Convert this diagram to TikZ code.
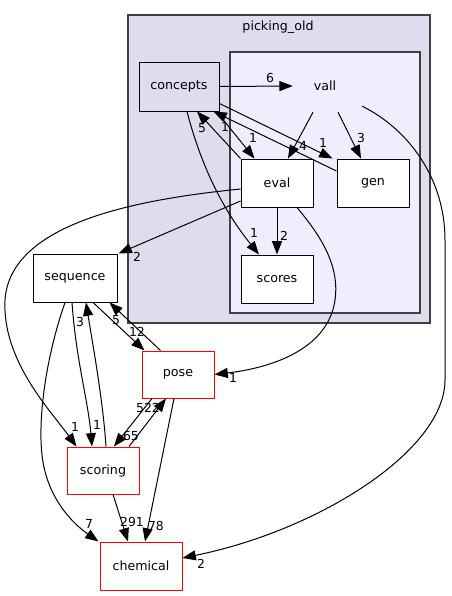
\documentclass[tikz,border=0pt]{standalone}
\usepackage{fontspec}
\setmainfont{DejaVu Sans}
\usetikzlibrary{arrows.meta,calc}
\definecolor{clout}{HTML}{DDDDEE}
\definecolor{clin}{HTML}{EEEEFF}
\definecolor{clborder}{HTML}{404040}
\begin{document}
\begin{tikzpicture}[x=0.75pt,y=-0.75pt,
  dirbox/.style={draw=black, fill=white, line width=0.75pt, minimum width=54pt, minimum height=36pt, inner sep=0pt, font=\fontsize{9.5}{11}\selectfont},
  redbox/.style={dirbox, draw=red},
  clusterbox/.style={draw=clborder, line width=0.9pt},
  cltitle/.style={inner sep=0pt, font=\fontsize{9.5}{11}\selectfont},
  depedge/.style={draw=black, line width=0.75pt, -{Triangle[length=10pt,width=7.5pt]}},
  elabel/.style={inner sep=0pt, font=\fontsize{9.3}{11}\selectfont}]
\useasboundingbox (0,0) rectangle (452,596);
% clusters
\draw[clusterbox, fill=clout] (128,15) rectangle (430,323);
\node[cltitle] (tpicking) at (278,27) {picking\_old};
\draw[clusterbox, fill=clin] (230,52) rectangle (420,313);
% nodes
\node[dirbox, fill=clout, minimum width=60pt, minimum height=36.75pt] (concepts) at (179,86.5) {concepts};
\node[inner sep=0pt, minimum width=48pt, minimum height=39pt, font=\fontsize{9.5}{11}\selectfont] (vall) at (325,86) {vall};
\node[dirbox] (eval) at (277,183) {eval};
\node[dirbox] (gen) at (373,183) {gen};
\node[dirbox] (scores) at (277,279) {scores};
\node[dirbox, minimum width=63pt] (sequence) at (75,278) {sequence};
\node[redbox, minimum height=35.25pt] (pose) at (178,374.5) {pose};
\node[redbox, minimum height=35.25pt] (scoring) at (103,470.5) {scoring};
\node[redbox, minimum width=61.5pt] (chemical) at (141,566) {chemical};
% edges
\draw[depedge] (concepts.east) -- (vall.west);
\node[elabel] (l6) at (270,78) {6};
\draw[depedge] ($(concepts.south east)+(-3,0)$) -- ($(eval.north west)+(14,0)$);
\node[elabel] (lce) at (253,138) {1};
\draw[depedge] (eval.north west) -- ($(concepts.south)+(18,0)$);
\node[elabel] (lec) at (202,128) {5};
\draw[depedge] ($(gen.west)+(0,-12)$) -- ($(concepts.south east)+(-6,0)$);
\node[elabel] (lgc) at (225,127) {1};
\draw[depedge] ($(concepts.east)+(0,17)$) -- ($(gen.north west)+(-4,0)$);
\node[elabel] (lcg) at (323,143) {1};
\draw[depedge] ($(concepts.south)+(8,0)$) .. controls (197,150) and (215,200) .. ($(scores.north)+(-18,0)$);
\node[elabel] (lcs) at (254,233) {1};
\draw[depedge] ($(vall.south)+(-12,0)$) -- ($(eval.north)+(11,0)$);
\node[elabel] (lve) at (303,146) {4};
\draw[depedge] ($(vall.south)+(13,0)$) -- ($(gen.north)+(-12,0)$);
\node[elabel] (lvg) at (361,138) {3};
\draw[depedge] ($(vall.south east)+(5,-6)$) .. controls (410,130) and (445,180) .. (445,240) -- (445,380) .. controls (445,450) and (320,530) .. ($(chemical.east)+(0,-8)$);
\node[elabel] (lvc) at (201,564) {2};
\draw[depedge] (eval.south) -- (scores.north);
\node[elabel] (les) at (284,236) {2};
\draw[depedge] ($(eval.west)+(0,18)$) -- ($(sequence.north east)+(1,0)$);
\node[elabel] (lesq) at (137,257) {2};
\draw[depedge] ($(eval.west)+(0,6)$) .. controls (130,200) and (10,225) .. (5,300) .. controls (2,360) and (50,410) .. ($(scoring.north west)+(10,0)$);
\node[elabel] (lesc) at (75,427) {1};
\draw[depedge] ($(eval.south)+(20,0)$) .. controls (320,235) and (340,265) .. (335,300) .. controls (328,350) and (270,368) .. (pose.east);
\node[elabel] (lep) at (233,378) {1};
\draw[depedge] ($(sequence.south)+(18,0)$) -- ($(pose.north west)+(3,0)$);
\node[elabel] (lsp) at (137,332) {12};
\draw[depedge] ($(pose.north west)+(19,0)$) -- ($(sequence.south east)+(-8,0)$);
\node[elabel] (lps) at (116,320) {5};
\draw[depedge] ($(sequence.south)+(-3,0)$) .. controls (76,360) and (88,400) .. ($(scoring.north)+(-11,0)$);
\node[elabel] (lssc) at (97,425) {1};
\draw[depedge] ($(scoring.north)+(3,0)$) .. controls (103,400) and (92,340) .. ($(sequence.south)+(11,0)$);
\node[elabel] (lscs) at (80,322) {3};
\draw[depedge] ($(sequence.south)+(-10,0)$) .. controls (45,360) and (38,420) .. (42,455) .. controls (47,500) and (75,525) .. ($(chemical.north west)+(-1,0)$);
\node[elabel] (lsch) at (89,524) {7};
\draw[depedge] ($(pose.south)+(-26,0)$) -- ($(scoring.north)+(11,0)$);
\node[elabel] (lpsc) at (131,436) {65};
\draw[depedge] ($(scoring.north)+(26,0)$) -- ($(pose.south)+(-12,0)$);
\node[elabel] (lscp) at (148,408) {522};
\draw[depedge] ($(scoring.south)+(10,0)$) -- ($(chemical.north)+(-13,0)$);
\node[elabel] (lscch) at (132,522) {291};
\draw[depedge] ($(pose.south)+(-4,0)$) -- ($(chemical.north)+(4,0)$);
\node[elabel] (lpch) at (156,526) {78};
\end{tikzpicture}
\end{document}
